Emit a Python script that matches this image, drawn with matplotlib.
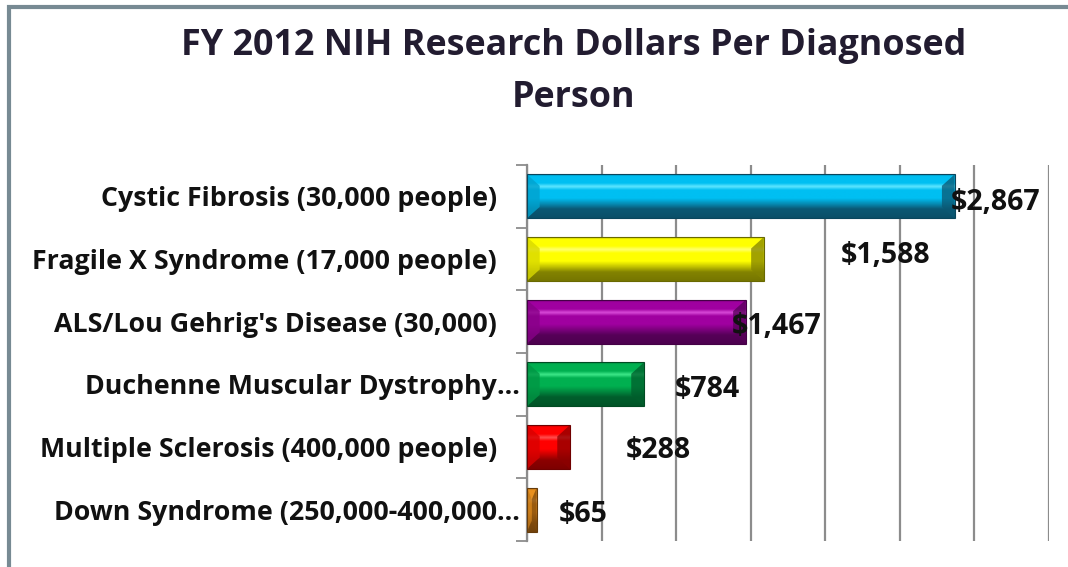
import numpy as np
import matplotlib
matplotlib.use("Agg")
import matplotlib.pyplot as plt
from matplotlib.patches import Polygon, Rectangle
from matplotlib.colors import to_rgb
from matplotlib.transforms import ScaledTranslation

# data, top bar first
categories = [
    "Cystic Fibrosis (30,000 people)",
    "Fragile X Syndrome (17,000 people)",
    "ALS/Lou Gehrig's Disease (30,000)",
    "Duchenne Muscular Dystrophy\u2026",
    "Multiple Sclerosis (400,000 people)",
    "Down Syndrome (250,000-400,000\u2026",
]
dollars = [2867, 1588, 1467, 784, 288, 65]
value_labels = ["$2,867", "$1,588", "$1,467", "$784", "$288", "$65"]

# (base, highlight, dark) per bar
bar_colors = [
    ("#00bff2", "#5fe6ff", "#0b5874"),
    ("#ffff00", "#ffff70", "#838300"),
    ("#a000a0", "#d84ad8", "#560058"),
    ("#00b050", "#3ee889", "#005e2c"),
    ("#ff0000", "#ff5050", "#8c0000"),
    ("#e8901f", "#ffb860", "#7f4a0c"),
]

# where Excel left the data labels (x in dollars, y shift in rows)
label_x = [3145, 2407, 1676, 1207, 880, 376]
label_dy = [-0.1, 0.06, -0.07, -0.09, -0.06, -0.07]

FONT = "Open Sans"
W, H = 1068, 567
fig = plt.figure(figsize=(W / 100, H / 100), dpi=100)
fig.patch.set_facecolor("white")

# grey frame, cut off on the right and bottom like the screenshot
fig.patches.append(Rectangle((9 / W, -0.1), 1.2, 1 - 7 / H + 0.1, transform=fig.transFigure,
                             fill=False, edgecolor="#778a93", linewidth=3.0, zorder=0))

fig.text(0.5375, 0.919, "FY 2012 NIH Research Dollars Per Diagnosed", ha="center", va="center",
         fontsize=25.8, fontweight="bold", family=FONT, color="#221c30")
fig.text(0.5375, 0.827, "Person", ha="center", va="center",
         fontsize=25.8, fontweight="bold", family=FONT, color="#221c30")

ax = fig.add_axes([527 / W, 26 / H, 522 / W, 376 / H])
n = len(categories)
ypos = np.arange(n)[::-1]
h = 0.7

stops = [0.0, 0.04, 0.2, 0.28, 0.36, 0.55, 0.68, 0.8, 1.0]
for v, y, (base, hi, dark) in zip(dollars, ypos, bar_colors):
    b, l, d = np.array(to_rgb(base)), np.array(to_rgb(hi)), np.array(to_rgb(dark))
    mid = (b + d) / 2
    cols = [mid, b, b, l, b, b, mid, d, d * 0.9]
    t = np.linspace(0, 1, 60)
    grad = np.array([[np.interp(tt, stops, [c[k] for c in cols]) for k in range(3)] for tt in t])
    ax.imshow(grad[:, None, :], extent=(0, v, y - h / 2, y + h / 2), origin="upper",
              aspect="auto", interpolation="bilinear", zorder=2)
    bw = min(85, v / 2)
    bh = h * 0.26
    top, bot = y + h / 2, y - h / 2
    ax.add_patch(Polygon([(0, top), (bw, top - bh), (bw, bot + bh), (0, bot)],
                         closed=True, facecolor=tuple(b * 0.85), edgecolor="none", alpha=0.8, zorder=3))
    ax.add_patch(Polygon([(v, top), (v - bw, top - bh), (v - bw, bot + bh), (v, bot)],
                         closed=True, facecolor=tuple(d), edgecolor="none", alpha=0.75, zorder=3))
    ax.add_patch(Rectangle((0, bot), v, h, fill=False, edgecolor=tuple(d * 0.8), linewidth=0.8, zorder=4))

for lab, lx, y, dy in zip(value_labels, label_x, ypos, label_dy):
    ax.text(lx, y + dy, lab, ha="center", va="center", fontsize=20.5, fontweight="bold",
            family=FONT, color="#111111", zorder=5, clip_on=False)

# category names: Excel right-aligns the text and hangs the ellipsis past it
lab_tr = ax.get_yaxis_transform() + ScaledTranslation(-0.30, -0.03, fig.dpi_scale_trans)
for name, y in zip(categories, ypos):
    main = name.rstrip("\u2026")
    ax.text(0, y, main, transform=lab_tr, ha="right", va="center", fontsize=19.3,
            fontweight="bold", family=FONT, color="#111111", clip_on=False)
    if name.endswith("\u2026"):
        ax.text(0, y, "\u2026", transform=lab_tr, ha="left", va="center", fontsize=19.3,
                fontweight="bold", family=FONT, color="#111111", clip_on=False)

ax.set_xlim(0, 3500)
ax.set_ylim(-0.5, n - 0.5)
ax.set_xticks(np.arange(0, 3501, 500))
ax.xaxis.grid(True, color="#8c8c8c", linewidth=1.6)
ax.set_axisbelow(True)
ax.tick_params(axis="x", length=0, labelbottom=False)

ax.set_yticks([])
ax.set_yticks(np.arange(-0.5, n, 1), minor=True)
ax.tick_params(axis="y", which="minor", length=8, width=1.3, color="#8c8c8c")

for s in ["top", "right", "bottom"]:
    ax.spines[s].set_visible(False)
ax.spines["left"].set_color("#8c8c8c")
ax.spines["left"].set_linewidth(1.6)

fig.savefig("out.png", dpi=100)
